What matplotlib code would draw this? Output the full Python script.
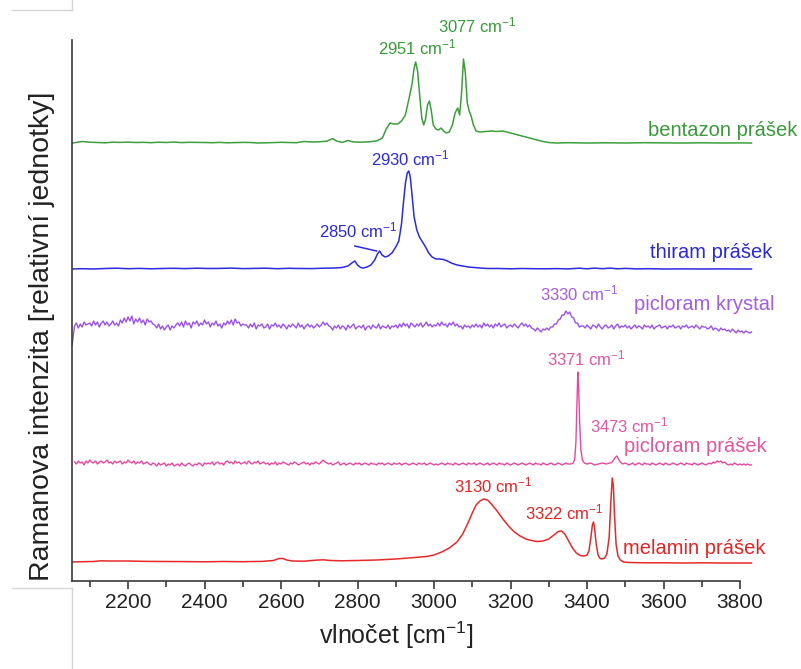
import numpy as np
import matplotlib
matplotlib.use("Agg")
import matplotlib.pyplot as plt
from matplotlib.lines import Line2D

plt.rcParams["font.family"] = ["Liberation Sans", "DejaVu Sans"]
plt.rcParams["mathtext.fontset"] = "custom"
plt.rcParams["mathtext.rm"] = "Liberation Sans"
plt.rcParams["mathtext.it"] = "Liberation Sans:italic"
plt.rcParams["mathtext.bf"] = "Liberation Sans:bold"

# ---------------- spectra (Raman shift in cm-1, intensity in relative units) ----------------
bentazon_wn = [2055, 2080, 2100, 2120, 2140, 2160, 2180, 2200, 2220, 2240, 2260, 2280, 2300,
               2320, 2340, 2360, 2380, 2400, 2420, 2440, 2460, 2480, 2500, 2520, 2540, 2560,
               2580, 2600, 2620, 2640, 2660, 2680, 2700, 2720, 2735, 2745, 2760, 2775, 2790,
               2810, 2830, 2850, 2865, 2875, 2885, 2895, 2905, 2915, 2925, 2935, 2943, 2948,
               2952, 2957, 2962, 2968, 2973, 2978, 2983, 2988, 2993, 2998, 3005, 3012, 3018,
               3025, 3032, 3040, 3048, 3055, 3062, 3067, 3072, 3077, 3082, 3087, 3092, 3097,
               3103, 3110, 3120, 3135, 3150, 3165, 3180, 3195, 3210, 3225, 3240, 3255, 3270,
               3285, 3300, 3320, 3350, 3400, 3450, 3500, 3550, 3600, 3650, 3700, 3750, 3800,
               3830]
bentazon_int = [0, 1.5, 0.8, 0.5, 0.2, 0.8, 0.6, 0.9, 0.5, 0.7, 0.3, 0.8, 0.5,
                0.9, 0.4, 0.7, 0.6, 0.5, 0.3, 0.6, 0.2, 0.4, 0.6, 0.5, 0.0, 0.2,
                0.4, 0.7, 0.5, 0.3, 1.5, 1.0, 1.2, 1.8, 4.5, 2.0, 0.6, 2.5, 1.0,
                0.8, 1.2, 2.0, 5, 14, 20, 19, 19, 22, 28, 45, 60, 75,
                81, 72, 50, 25, 18, 24, 38, 42, 32, 18, 14, 13, 15,
                12, 10, 11, 18, 30, 35, 28, 50, 84, 70, 40, 32, 27,
                18, 12, 11, 11.5, 12, 11.5, 12, 10.5, 9, 7.5, 6, 4.5, 3,
                1.5, 0.5, 0, 0.3, 0, 0.2, 0, 0.3, 0.1, 0, 0.2, 0, 0.1,
                0]

thiram_wn = [2055, 2080, 2110, 2140, 2170, 2200, 2230, 2260, 2290, 2320, 2350, 2380, 2410,
             2440, 2470, 2500, 2530, 2560, 2590, 2620, 2650, 2680, 2710, 2740, 2760, 2775,
             2785, 2793, 2800, 2808, 2815, 2825, 2835, 2845, 2852, 2858, 2864, 2872, 2880,
             2890, 2900, 2908, 2915, 2920, 2925, 2930, 2934, 2938, 2943, 2948, 2955, 2962,
             2970, 2978, 2986, 2995, 3005, 3015, 3025, 3035, 3045, 3060, 3075, 3090, 3105,
             3120, 3140, 3170, 3200, 3230, 3260, 3290, 3320, 3350, 3380, 3400, 3420, 3440,
             3460, 3480, 3500, 3530, 3560, 3600, 3650, 3700, 3750, 3800, 3830]
thiram_int = [0, 0.3, 0, 0.5, 0.8, 0.3, 0.6, 0.2, 0.5, 0.7, 0.4, 0.8, 0.5,
              0.6, 0.9, 0.4, 0.6, 0.8, 0.3, 0.7, 0.5, 0.4, 0.8, 1.0, 1.5, 3,
              6, 8, 4, 1.5, 1.0, 2, 4, 9, 15, 18, 14, 12, 13,
              16, 22, 28, 45, 66, 85, 96, 98, 92, 72, 52, 39, 32,
              27, 22, 16, 12, 10, 10, 9.5, 8, 6, 4, 3, 2, 1.5,
              1, 0.5, 0.5, 0.2, 0.5, 0.3, 0.2, 0.4, 0.1, 0.8, 0.2, 0.9, 0.3,
              0.9, 0.2, 0.6, 0.1, 0.3, 0, 0.1, 0, 0.1, 0, 0]

# picloram crystal: sampled every 5 cm-1 from 2060 to 3830 (first point at the left edge)
krystal_wn = np.concatenate([[2054], np.arange(2060, 3831, 5)])
krystal_int = [-18,
               1, 4, -1, 3, 0, 5, 2, 3,
               4, 1, 6, 2, 5, 0, 4, 6, 2, 5, 1, 3, 6, 2, 4, 1,
               7, 4, 9, 5, 10, 6, 11, 3, 8, 5, 9, 4, 7, 2, 8, 5, 6, 3,
               2, -1, 3, -2, 1, -3, 0, 2, -3, 1, -1, 2,
               4, 1, 5, 0, 6, 2, 4, -1, 5, 3, 6, 1, 4, 2, 7, 3, 5, 0, 4, 2, 6, 1, 3, -1, 4, 2,
               6, 3, 7, 2, 8, 4, 5, 1, 3, 2,
               2, -1, 3, 0, 4, -2, 2, 1, 3, -1, 0, 3, -2, 2, 1, 4, 0, 2, -1, 3,
               1, -2, 2, 0, 3, 1, -1, 4, 0, 2, -2, 1, 3, 0, 2, -1, 1, 3, 0, 2,
               5, 2, 4, 1,
               0, -3, 1, -1, 2, -2, 1, 0, -3, 2, -1, 1, 3, -2, 0, 1, -1, 2,
               -3, 0, 1, -2, 2, 0, -1, 3, -2, 1, 0, -1, 2, -2, 1, 0, 2, -1,
               3, 0, 4, 1, 3, -1, 4, 2, 0, 3, 1, 4, 0, 2, 5, 1, 3, 0, 2, 1,
               4, 1, 5, 2, 3, 0, 4, 2, 5, 1, 3, 0,
               1, -2, 2, 0, 1, -1, 2, 0,
               3, 0, 2, -1, 4, 1, 3, 0, 2, -1, 3, 1, 4, 0, 2,
               3, -1, 1, 2, 0, 3, 1, -1, 2, 4, 1, 3, 0, 2, -1,
               -2, -4, -1, -3, -5, -2, -3, -1, -3, 0,
               0, 3, 3, 7, 8, 12, 12, 16, 13, 15, 10, 9, 4, 4, 0, 1,
               1, -1, 2, 0, -2, 2, 1, -1, 3, 0, -2, 1, 2, -1, 0, 2, -2, 1, 3, -1, 1, 0, 2, -1,
               1, -2, 0, 2, -1, 1, 0, -2, 2, 0, 1, -1, 2, -2, 0, 1, 2, -1, 0, 1,
               -2, 1, 0, 2, -1, 0, 1, -2, 1, 0, 2, -1, 0, 1, -1, 2, 0, -2, 1, 0,
               0, -2, -1, 1, -3, -1, -2, -4, -1, -3, -2, -4, -3, -5, -2, -4, -6, -3, -5, -4,
               -6, -4, -5, -6, -5]

# picloram powder: 5 cm-1 steps away from the bands, finer around 3371 and 3473 cm-1
prasek_wn = np.concatenate([
    np.arange(2060, 3351, 5),
    [3358, 3364, 3368, 3371, 3374, 3376, 3378, 3381, 3384, 3388, 3393, 3400, 3410,
     3420, 3430, 3440, 3450, 3460, 3466, 3471, 3475, 3478, 3482, 3487, 3493],
    np.arange(3500, 3831, 5)])
prasek_int = [2, 0, 3, 1, 2, -1, 3, 1, 4, 2, 1, 3, 0, 2, 3, 1, 2, 4, 1, 2,
              0, 3, 1, 2, 3, 0, 2, 1, 4, 2, 1, 3, 0, 2, 1, 3, 0, 1, 2, 0,
              -1, 1, 0, -2, 1, -1, 0, 1, -2, 0, -1, 1, -2, -1, 0, -2, 1, -1, -2, 0,
              1, -1, -2, 0, -1, 1, 0, -2, 1, 0,
              1, 0, 2, -1, 1, 2, 0, 1, -1, 2, 3, 1, 2, 0, 3, 1, 2, 0, 1, 2,
              0, 3, 1, 0, 2, 1, 3, 0, 1, 2,
              0, 1, -1, 1, 0, 2, -1, 1, 0, 2, 1, 0, -1, 1, 0, 2, 1, -1, 0, 1,
              2, 0, 1, -1, 1, 0, 2, 1, 0, 2,
              4, 2, 1, 0, 1, -1, 0, 1, 2, -1, 0, 1, -1, 0, 1, 0, -1, 1, 0, 1,
              -1, 0, 1, 0, -1, 1, 0, 0, -1, 1,
              0, 1, -1, 0, 1, 0, -1, 1, 0, 0, 1, -1, 0, 1, 0, -1, 0, 1, 0, -1,
              1, 0, 0, 1, -1, 0, 1, 0, -1, 0,
              -1, 0, 1, 0, -1, 1, 0, 0, -1, 1, 0, -1, 0, 1, 0, -1, 1, 0, 0, 1,
              -1, 0, 1, 0, -1, 0, 1, -1, 0, 1,
              0, -1, 1, 0, 0, -1, 1, 0, -1, 0, 1, 0, -1, 0, 1, 0, -1, 0, 1, 0,
              -1, 1, 0, 0, -1, 1, 0, -1, 0, 1, 0, -1, 0, 1, 0, -1, 0, 1, 0,
              0, 1, 5, 22, 62, 92, 78, 40, 14, 4, 1, 0, 1,
              -1, 0, 1, 0, 1, 2, 5, 7, 8, 5, 2, 0,
              1, 0, -1, 0, 1, -1, 0, 1, 0, -1, 1, 0, 0, -1, 1, 0, -1, 0, 1, 0,
              -1, 1, 0, -1, 0, 1, 0, -1, 0, 1, 0, -1, 1, 0, 0, -1, 1, 0, -1, 0,
              1, 0, -1, 0, 1, 0, 2, 1, 3, 2, 3, 1, 2, 0, -1, 0, -1, 1, 0, -1,
              0, -1, 0, -1, 0, -1, -1]

melamin_wn = [2055, 2080, 2110, 2130, 2150, 2200, 2250, 2300, 2350, 2400, 2450, 2500, 2550,
              2580, 2595, 2605, 2615, 2630, 2660, 2690, 2710, 2730, 2760, 2800, 2850, 2900,
              2950, 2980, 3000, 3020, 3040, 3060, 3075, 3090, 3100, 3110, 3120, 3130, 3140,
              3150, 3165, 3180, 3195, 3210, 3225, 3240, 3255, 3270, 3285, 3300, 3315, 3325,
              3333, 3342, 3352, 3362, 3372, 3382, 3392, 3400, 3405, 3410, 3414, 3417, 3420,
              3424, 3429, 3434, 3440, 3446, 3452, 3458, 3462, 3466, 3469, 3472, 3476, 3481,
              3487, 3495, 3510, 3550, 3600, 3650, 3700, 3750, 3800, 3830]
melamin_int = [0, 0.3, 0.5, 1.2, 1.0, 1.0, 0.6, 0.5, 0.4, 0.2, 0.5, 0.3, 0.6,
               1.5, 3.5, 3.5, 2, 1, 0.8, 1.8, 2.2, 1.5, 1.2, 1.5, 2, 3,
               4.5, 5.5, 7, 10, 14, 20, 28, 40, 49, 57, 61, 63, 62,
               58, 51, 43, 36, 30, 26, 23, 21.5, 20.5, 21, 23, 27.5, 30.5,
               31, 28, 21, 14, 9, 6.5, 6, 7, 11, 24, 37, 40, 33,
               18, 7, 3.5, 3, 4, 8, 25, 58, 84, 76, 46, 18, 6,
               2, 0, -0.5, -0.8, -0.8, -1, -0.8, -1, -1, -1]

series_names = ["bentazon prášek", "thiram prášek", "picloram krystal",
                "picloram prášek", "melamin prášek"]
peak_labels = ["2951", "3077", "2930", "2850", "3330", "3371", "3473", "3130", "3322"]

# ---------------- figure ----------------
W, H = 801, 669
fig = plt.figure(figsize=(W / 100, H / 100), dpi=100)
ax = fig.add_axes([72 / W, 88 / H, 668 / W, 541 / H])

line_colors = ["#3c9e3c", "#2b2be0", "#9b52ea", "#e8489e", "#e62a2a"]
text_colors = ["#3a9a3a", "#2a2ad8", "#a45ce2", "#e2559f", "#e32424"]
line_widths = [1.1, 1.1, 1.0, 1.0, 1.1]
offsets = [438, 312, 254, 117, 19]
spectra = [(bentazon_wn, bentazon_int), (thiram_wn, thiram_int),
           (krystal_wn, krystal_int), (prasek_wn, prasek_int),
           (melamin_wn, melamin_int)]

for (wn, inten), off, c, lw in zip(spectra, offsets, line_colors, line_widths):
    ax.plot(np.asarray(wn), off + np.asarray(inten, dtype=float),
            color=c, lw=lw, clip_on=False, solid_joinstyle="round")

ax.set_xlim(2053.5, 3800)
ax.set_ylim(0, 541)
ax.set_xticks(range(2200, 3801, 200))
ax.set_xticks(range(2100, 3800, 200), minor=True)
ax.set_yticks([])
for s in ("top", "right"):
    ax.spines[s].set_visible(False)
for s in ("left", "bottom"):
    ax.spines[s].set_color("#3a3a3a")
    ax.spines[s].set_linewidth(1.2)
ax.tick_params(axis="x", which="major", direction="out", length=6, width=1.2,
               color="#3a3a3a", labelsize=15, pad=3, labelcolor="#222222")
ax.tick_params(axis="x", which="minor", direction="out", length=4, width=1.2,
               color="#3a3a3a")

cm = r" cm$^{-1}$"
# series names
name_pos = [(3560, 451), (3565, 328), (3522, 276), (3496, 134), (3494, 33)]
for name, (x, y), c in zip(series_names, name_pos, text_colors):
    ax.text(x, y, name, color=c, fontsize=14.5, ha="left", va="center")

# band annotations
label_pos = [(2957, 534, 0), (3112, 556, 0), (2939, 423, 1), (2803, 351, 1),
             (3381, 288, 2), (3399, 223, 3), (3510, 156, 3), (3154, 96, 4),
             (3340, 69, 4)]
for lab, (x, y, k) in zip(peak_labels, label_pos):
    ax.text(x, y, lab + cm, color=text_colors[k], fontsize=12,
            ha="center", va="center")
ax.plot([2793, 2850], [335, 330], color=line_colors[1], lw=1.1)

fig.text(396 / W, 1 - 635 / H, r"vlnočet [cm$^{-1}$]", fontsize=18,
         ha="center", va="center", color="#222222")
fig.text(42 / W, 1 - 336 / H, "Ramanova intenzita [relativní jednotky]",
         fontsize=20.5, rotation=90, ha="center", va="center", color="#222222")

# thin frame edges at the left margin
edge = dict(transform=fig.transFigure, color="#d6d6d6", lw=1)
fig.add_artist(Line2D([12 / W, 72 / W], [1 - 10 / H] * 2, **edge))
fig.add_artist(Line2D([72 / W, 72 / W], [1, 1 - 10 / H], **edge))
fig.add_artist(Line2D([12 / W, 72 / W], [1 - 588 / H] * 2, **edge))
fig.add_artist(Line2D([72 / W, 72 / W], [1 - 588 / H, 0], **edge))

fig.savefig("out.png", dpi=100)
